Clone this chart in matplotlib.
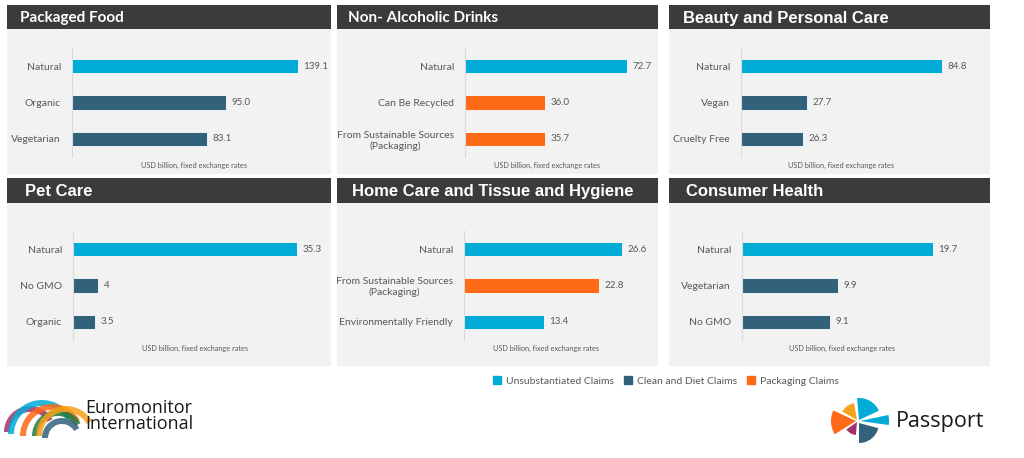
import matplotlib
matplotlib.use("Agg")
import matplotlib.pyplot as plt
from matplotlib.patches import Rectangle, Wedge, Patch

# data
titles = ["Packaged Food", "Non- Alcoholic Drinks", "Beauty and Personal Care",
          "Pet Care", "Home Care and Tissue and Hygiene", "Consumer Health"]
labels = [
    ["Natural", "Organic", "Vegetarian"],
    ["Natural", "Can Be Recycled", "From Sustainable Sources\n(Packaging)"],
    ["Natural", "Vegan", "Cruelty Free"],
    ["Natural", "No GMO", "Organic"],
    ["Natural", "From Sustainable Sources\n(Packaging)", "Environmentally Friendly"],
    ["Natural", "Vegetarian", "No GMO"],
]
values = [
    [139.1, 95.0, 83.1],
    [72.7, 36.0, 35.7],
    [84.8, 27.7, 26.3],
    [35.3, 4, 3.5],
    [26.6, 22.8, 13.4],
    [19.7, 9.9, 9.1],
]
value_text = [
    ["139.1", "95.0", "83.1"],
    ["72.7", "36.0", "35.7"],
    ["84.8", "27.7", "26.3"],
    ["35.3", "4", "3.5"],
    ["26.6", "22.8", "13.4"],
    ["19.7", "9.9", "9.1"],
]
claim_types = [
    ["U", "C", "C"],
    ["U", "P", "P"],
    ["U", "C", "C"],
    ["U", "C", "C"],
    ["U", "P", "U"],
    ["U", "C", "C"],
]
legend_names = {"U": "Unsubstantiated Claims", "C": "Clean and Diet Claims", "P": "Packaging Claims"}

colors = {"U": "#00acd7", "C": "#32627b", "P": "#fe6a15"}
BAR_BG = "#f2f2f2"
TITLE_BG = "#3b3b3b"
TXT = "#595959"

W, H = 1024, 458
fig = plt.figure(figsize=(W / 100, H / 100), dpi=100)
fig.patch.set_facecolor("white")

# full-figure pixel axes for backgrounds and logos
bg = fig.add_axes([0, 0, 1, 1])
bg.set_xlim(0, W)
bg.set_ylim(H, 0)
bg.axis("off")

cols = [(7, 331), (337, 658), (669, 990)]
rows_title = [(5, 29), (178, 203)]
rows_body = [(29, 174), (203, 366)]
title_x = [20, 348, 683, 25, 352, 686]
title_fonts = ["Lato", "Lato", "Liberation Sans", "Liberation Sans", "Liberation Sans", "Liberation Sans"]
title_sizes = [11, 11, 12, 12, 12, 12]
axis_left = [72, 465, 741, 73, 464, 742]
axis_width = [250, 180, 225, 250, 180, 215]
bar_px = [226, 162, 201, 224, 158, 191]
axis_rows = [(48, 157), (231, 340)]
note_dx = [122, 82, 100, 122, 82, 100]

def fx(px):
    return px / W

def fy(py):
    return 1 - py / H

for i in range(6):
    r, c = divmod(i, 3)
    x0, x1 = cols[c]
    t0, t1 = rows_title[r]
    b0, b1 = rows_body[r]
    bg.add_patch(Rectangle((x0, b0), x1 - x0, b1 - b0, color=BAR_BG, lw=0))
    bg.add_patch(Rectangle((x0, t0), x1 - x0, t1 - t0, color=TITLE_BG, lw=0))
    bg.text(title_x[i], (t0 + t1) / 2 + 1, titles[i], color="white", fontsize=title_sizes[i],
            fontweight="bold", family=title_fonts[i], va="center", ha="left")

    a0, a1 = axis_rows[r]
    ax = fig.add_axes([fx(axis_left[i]), fy(a1), fx(axis_width[i]), (a1 - a0) / H])
    ax.patch.set_alpha(0)
    vals = values[i]
    xmax = vals[0] * axis_width[i] / bar_px[i]
    ypos = list(range(len(vals)))
    ax.barh(ypos, vals, height=0.4, color=[colors[k] for k in claim_types[i]],
            edgecolor="white", linewidth=0.6)
    ax.set_xlim(0, xmax)
    ax.set_ylim(len(vals) - 0.5, -0.5)
    ax.set_yticks(ypos)
    ax.set_yticklabels(labels[i], fontsize=7.5, color=TXT, family="Lato",
                       multialignment="center")
    ax.tick_params(axis="y", length=0, pad=8)
    ax.set_xticks([])
    for s in ["top", "right", "bottom"]:
        ax.spines[s].set_visible(False)
    ax.spines["left"].set_color("#d9d9d9")
    ax.spines["left"].set_linewidth(0.8)
    for y, v, t in zip(ypos, vals, value_text[i]):
        ax.annotate(t, (v, y), xytext=(4, 0), textcoords="offset points",
                    va="center", ha="left", fontsize=7, color=TXT, family="Lato")
    bg.text(axis_left[i] + note_dx[i], a1 + 8, "USD billion, fixed exchange rates",
            fontsize=5.3, color=TXT, family="Lato", ha="center", va="center")

# legend
handles = [Patch(color=colors[k], label=legend_names[k]) for k in ["U", "C", "P"]]
fig.legend(handles=handles, loc="center", bbox_to_anchor=(fx(666), fy(381)), ncol=3,
           frameon=False, handlelength=0.7, handleheight=0.7,
           handletextpad=0.5, columnspacing=1.0,
           prop={"family": "Lato", "size": 7.5}, labelcolor=TXT)

# Euromonitor logo (approximation)
arc_specs = [
    ((30, 432), 26, "#a2306a"), ((42, 434), 34, "#00acd7"), ((52, 436), 32, "#fe6a15"),
    ((58, 436), 26, "#1f7a3c"), ((62, 438), 20, "#32627b"), ((66, 436), 30, "#f6a01a"),
]
for (cx, cy), rad, col in arc_specs:
    bg.add_patch(Wedge((cx, cy), rad, 180, 330, width=6, color=col, alpha=0.85, lw=0))
bg.text(85, 416, "Euromonitor\nInternational", fontsize=13, color="#1a1a1a",
        family="Open Sans", ha="left", va="center", linespacing=0.9)

# Passport logo (approximation): angles given counter-clockwise on screen
pc = (858, 421)
icon = [
    ((1, -1), 22, 25, 95, "#00acd7"),
    ((2, 0), 29, -8, 12, "#00acd7"),
    ((-1, -1), 17, 100, 150, "#f7a21b"),
    ((-2, 0), 25, 155, 212, "#fe6a15"),
    ((-1, 1), 13, 215, 265, "#a2306a"),
    ((1, 2), 20, 270, 345, "#32627b"),
]
for (dx, dy), rad, a1, a2, col in icon:
    bg.add_patch(Wedge((pc[0] + dx, pc[1] + dy), rad, 360 - a2, 360 - a1, color=col, lw=0))
bg.text(896, 422, "Passport", fontsize=15.5, color="#1a1a1a", family="Open Sans",
        ha="left", va="center")

fig.savefig("out.png", dpi=100)
